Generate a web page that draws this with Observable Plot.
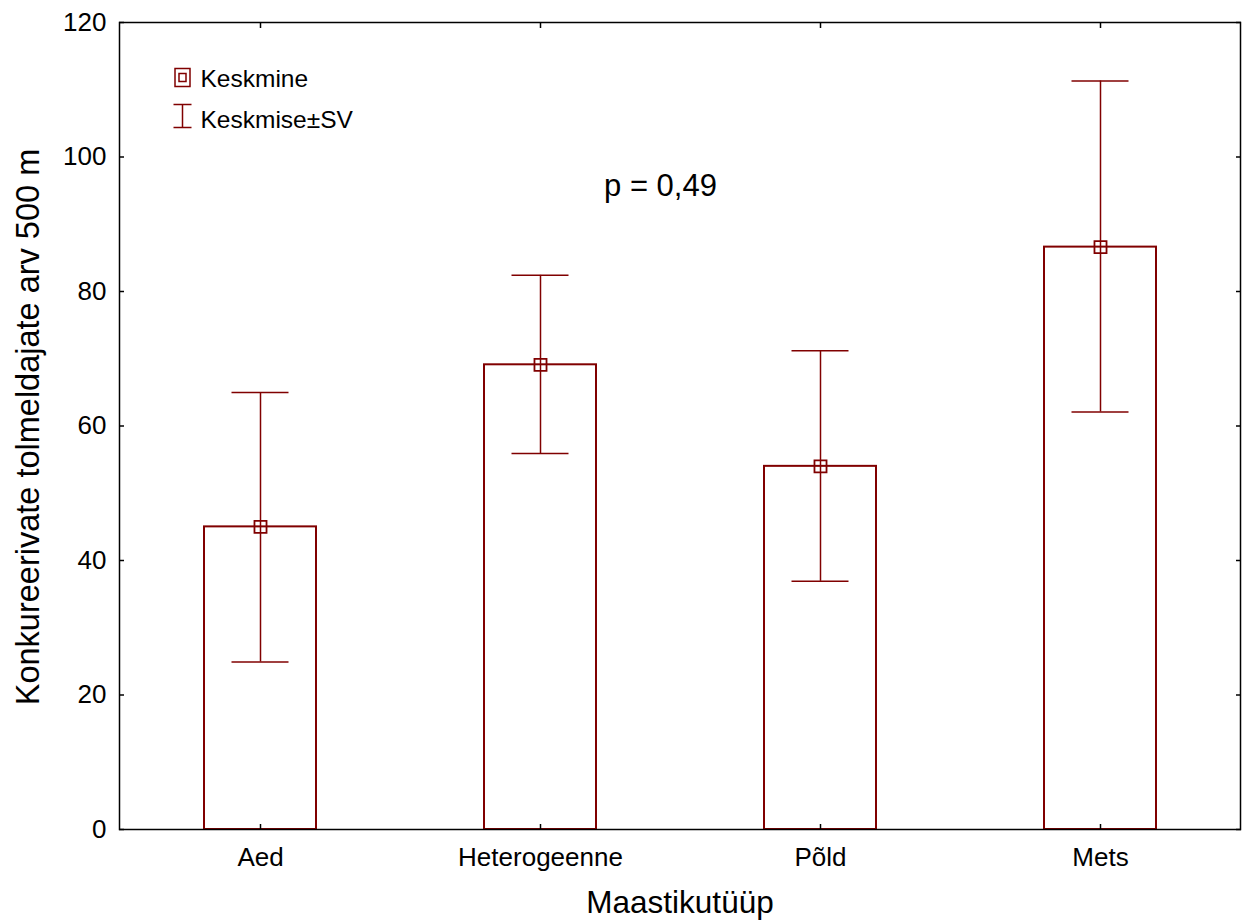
<!DOCTYPE html>
<html>
<head>
<meta charset="utf-8">
<script src="https://cdn.jsdelivr.net/npm/d3@7"></script>
<script src="https://cdn.jsdelivr.net/npm/@observablehq/plot@0.6"></script>
<style>
  html, body { margin: 0; padding: 0; background: white; }
</style>
</head>
<body>
<div id="chart"></div>
<script>
const categories = ["Aed", "Heterogeenne", "Põld", "Mets"];
const means = [45.0, 69.1, 54.0, 86.6];
const sdLow = [24.9, 55.9, 36.9, 62.1];
const sdHigh = [65.0, 82.4, 71.2, 111.3];
const yTicks = [0, 20, 40, 60, 80, 100, 120];
const xTitle = "Maastikutüüp";
const yTitle = "Konkureerivate tolmeldajate arv 500 m";
const legendLabels = ["Keskmine", "Keskmise±SV"];
const pText = "p = 0,49";

const data = categories.map((c, i) => ({cat: c, mean: means[i], lo: sdLow[i], hi: sdHigh[i]}));

const RED = "#800000";
const FONT = "'Liberation Sans', Arial, Helvetica, sans-serif";

const boxSymbol = {
  draw(ctx) {
    ctx.moveTo(-7.5, -9); ctx.lineTo(7.5, -9); ctx.lineTo(7.5, 9); ctx.lineTo(-7.5, 9); ctx.closePath();
    ctx.moveTo(-3.5, -4); ctx.lineTo(3.5, -4); ctx.lineTo(3.5, 4); ctx.lineTo(-3.5, 4); ctx.closePath();
  }
};
const beamSymbol = {
  draw(ctx) {
    ctx.moveTo(-9, -11.5); ctx.lineTo(9, -11.5);
    ctx.moveTo(0, -11.5); ctx.lineTo(0, 11.5);
    ctx.moveTo(-9, 11.5); ctx.lineTo(9, 11.5);
  }
};

const chart = Plot.plot({
  width: 1247,
  height: 922,
  marginLeft: 119,
  marginRight: 7,
  marginTop: 22,
  marginBottom: 93,
  style: {fontFamily: FONT, fontSize: "26px", color: "black", background: "white"},
  x: {domain: categories, paddingInner: 0.6, paddingOuter: 0.3, label: null},
  y: {domain: [0, 120], label: null},
  marks: [
    Plot.barY(data, {x: "cat", y: "mean", fill: "white", stroke: RED, strokeWidth: 2}),
    Plot.ruleX(data, {x: "cat", y1: "lo", y2: "hi", stroke: RED, strokeWidth: 1.5}),
    Plot.tickY(data, {x: "cat", y: "hi", insetLeft: 27.5, insetRight: 27.5, stroke: RED, strokeWidth: 1.5}),
    Plot.tickY(data, {x: "cat", y: "lo", insetLeft: 27.5, insetRight: 27.5, stroke: RED, strokeWidth: 1.5}),
    Plot.dot(data, {x: "cat", y: "mean", symbol: "square", r: 6.8, stroke: RED, strokeWidth: 1.8, fill: "none"}),
    Plot.frame({stroke: "black", strokeWidth: 1.5}),
    Plot.axisY({anchor: "left", ticks: yTicks, tickSize: -5, tickPadding: 18, strokeWidth: 1.5, label: null, fontSize: 26}),
    Plot.axisY({anchor: "right", ticks: yTicks, tickSize: -5, tickFormat: () => "", strokeWidth: 1.5, label: null}),
    Plot.axisX({anchor: "bottom", tickSize: -5, tickPadding: 23, strokeWidth: 1.5, label: null, fontSize: 26}),
    Plot.axisX({anchor: "top", tickSize: -5, tickFormat: () => "", strokeWidth: 1.5, label: null}),
    // legend
    Plot.dot([0], {frameAnchor: "top-left", dx: 63, dy: 55, symbol: boxSymbol, stroke: RED, strokeWidth: 1.5, fill: "none"}),
    Plot.dot([0], {frameAnchor: "top-left", dx: 63, dy: 93.5, symbol: beamSymbol, stroke: RED, strokeWidth: 1.5, fill: "none"}),
    Plot.text([legendLabels[0]], {frameAnchor: "top-left", dx: 81, dy: 57, text: d => d, textAnchor: "start", lineAnchor: "middle", fontSize: 24.5, fill: "black"}),
    Plot.text([legendLabels[1]], {frameAnchor: "top-left", dx: 81, dy: 98, text: d => d, textAnchor: "start", lineAnchor: "middle", fontSize: 24.5, fill: "black"}),
    // p value
    Plot.text([pText], {frameAnchor: "top-left", dx: 541, dy: 164, text: d => d, textAnchor: "middle", lineAnchor: "middle", fontSize: 31, fill: "black"}),
    // axis titles
    Plot.text([xTitle], {frameAnchor: "bottom", dx: 0, dy: 73, text: d => d, textAnchor: "middle", lineAnchor: "middle", fontSize: 31.5, fill: "black"}),
    Plot.text([yTitle], {frameAnchor: "left", dx: -91, dy: 1, rotate: -90, text: d => d, textAnchor: "middle", lineAnchor: "middle", fontSize: 32.5, fill: "black"})
  ]
});
document.getElementById("chart").appendChild(chart);
</script>
</body>
</html>
